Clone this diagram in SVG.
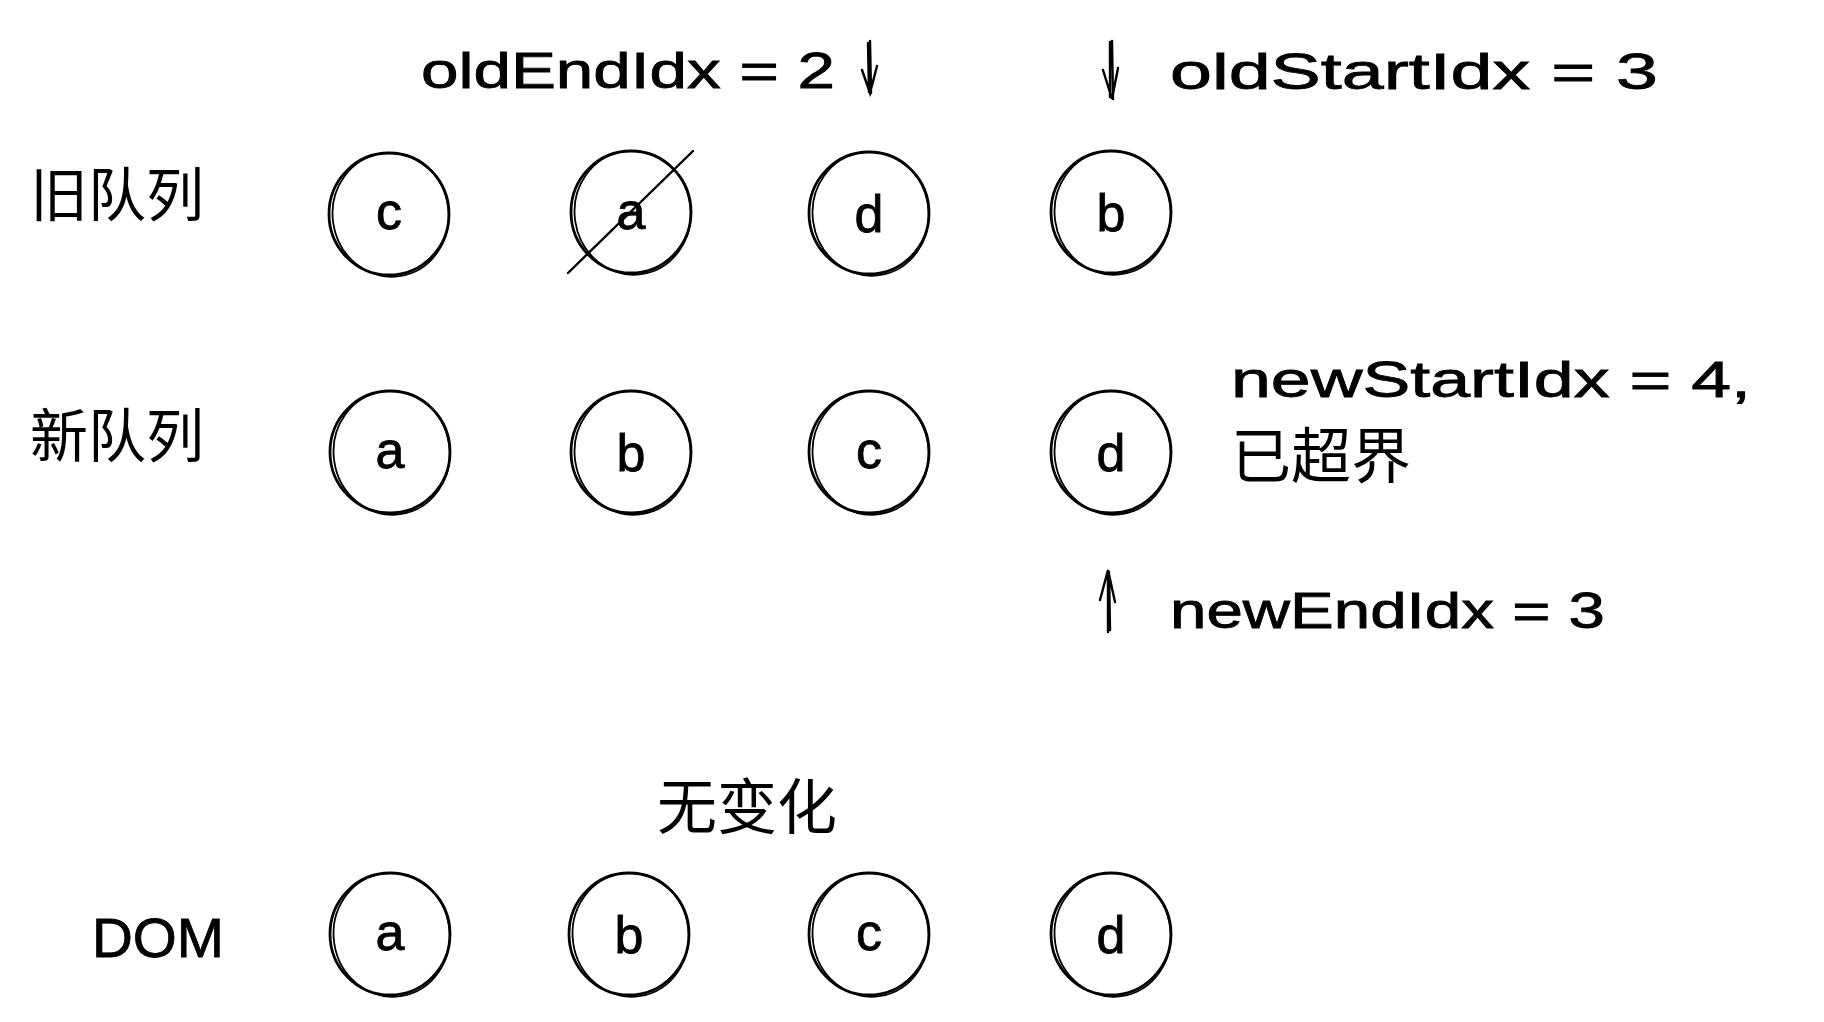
<svg xmlns="http://www.w3.org/2000/svg" width="1824" height="1022" viewBox="0 0 1824 1022">
<style>
.c{fill:none;stroke:#000;stroke-width:2.8;stroke-linecap:round}
.c2{fill:none;stroke:#000;stroke-width:1.8}
.t{font-family:"Liberation Sans",sans-serif;fill:#000;stroke:#000;stroke-width:0.8}
.cjk{font-family:"Noto Sans CJK SC",sans-serif;fill:#000}
.l{font-family:"Liberation Sans",sans-serif;font-size:52px;text-anchor:middle;fill:#000;stroke:#000;stroke-width:0.8}
.a{stroke:#000;stroke-width:2.4;fill:none;stroke-linecap:round}
</style>
<defs>
<g id="circ">
<ellipse class="c" cx="0" cy="0" rx="60" ry="61"/>
<ellipse class="c2" cx="1.5" cy="1" rx="58" ry="62" transform="rotate(-8)"/>
</g>
</defs>
<rect width="1824" height="1022" fill="#fff"/>

<g id="label-old"><text class="cjk" x="30" y="216" font-size="58">旧队列</text></g>
<g id="label-new"><text class="cjk" x="30" y="457" font-size="58">新队列</text></g>
<g id="label-dom"><text class="t" x="92" y="957" font-size="56" textLength="132" lengthAdjust="spacingAndGlyphs">DOM</text></g>

<g id="old-c"><use href="#circ" x="389" y="214"/><text class="l" x="389" y="229">c</text></g>
<g id="old-a"><use href="#circ" x="631" y="212"/><text class="l" x="631" y="229">a</text><line class="a" x1="568" y1="273" x2="693" y2="151"/></g>
<g id="old-d"><use href="#circ" x="869" y="213"/><text class="l" x="869" y="232">d</text></g>
<g id="old-b"><use href="#circ" x="1111" y="212"/><text class="l" x="1111" y="231">b</text></g>

<g id="new-a"><use href="#circ" x="390" y="452"/><text class="l" x="390" y="468">a</text></g>
<g id="new-b"><use href="#circ" x="631" y="452"/><text class="l" x="631" y="471">b</text></g>
<g id="new-c"><use href="#circ" x="869" y="452"/><text class="l" x="869" y="468">c</text></g>
<g id="new-d"><use href="#circ" x="1111" y="452"/><text class="l" x="1111" y="471">d</text></g>

<g id="dom-a"><use href="#circ" x="390" y="934"/><text class="l" x="390" y="950">a</text></g>
<g id="dom-b"><use href="#circ" x="629" y="934"/><text class="l" x="629" y="953">b</text></g>
<g id="dom-c"><use href="#circ" x="869" y="934"/><text class="l" x="869" y="950">c</text></g>
<g id="dom-d"><use href="#circ" x="1111" y="934"/><text class="l" x="1111" y="953">d</text></g>

<g id="txt-oldEnd"><text class="t" x="421" y="88" font-size="50" textLength="414" lengthAdjust="spacingAndGlyphs">oldEndIdx = 2</text></g>
<g id="txt-oldStart"><text class="t" x="1170" y="89" font-size="50" textLength="488" lengthAdjust="spacingAndGlyphs">oldStartIdx = 3</text></g>
<g id="txt-newStart"><text class="t" x="1231" y="397" font-size="50" textLength="520" lengthAdjust="spacingAndGlyphs">newStartIdx = 4,</text>
<text class="cjk" x="1231" y="478" font-size="60">已超界</text></g>
<g id="txt-newEnd"><text class="t" x="1170" y="628" font-size="50" textLength="435" lengthAdjust="spacingAndGlyphs">newEndIdx = 3</text></g>
<g id="txt-nochange"><text class="cjk" x="657" y="829" font-size="60">无变化</text></g>

<g id="connectors">
<path class="a" d="M870 41 L871 93 M868 43 L869 92 M862 70 L870 93 L877 66"/>
<path class="a" d="M1112 41 L1113 99 M1110 42 L1110 97 M1103 70 L1112 99 L1118 68"/>
<path class="a" d="M1108 632 L1108 571 M1110 630 L1109 572 M1100 600 L1108 570 L1115 602"/>
</g>
</svg>
